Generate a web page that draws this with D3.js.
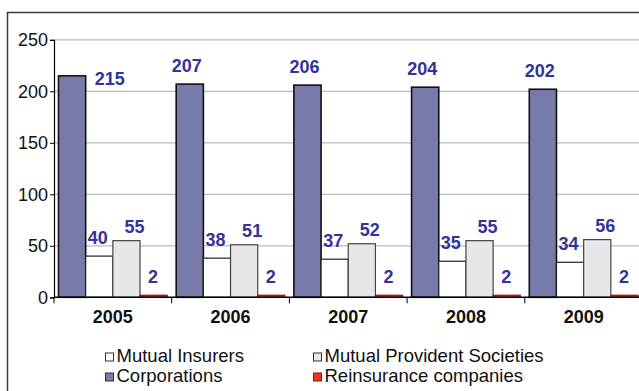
<!DOCTYPE html>
<html><head><meta charset="utf-8">
<script src="https://cdn.jsdelivr.net/npm/d3@7/dist/d3.min.js"></script>
<style>
html,body{margin:0;padding:0;background:#fff;overflow:hidden;}
svg{display:block;font-family:Arial,"Liberation Sans",sans-serif;}
</style></head>
<body>
<script>
const years = ["2005","2006","2007","2008","2009"];
const seriesNames = ["Corporations","Mutual Insurers","Mutual Provident Societies","Reinsurance companies"];
const corporations = [215,207,206,204,202];
const mutualInsurers = [40,38,37,35,34];
const mutualProvident = [55,51,52,55,56];
const reinsurance = [2,2,2,2,2];
const yTicks = [0,50,100,150,200,250];
const legendOrder = ["Mutual Insurers","Mutual Provident Societies","Corporations","Reinsurance companies"];

const values = {
  "Corporations": corporations,
  "Mutual Insurers": mutualInsurers,
  "Mutual Provident Societies": mutualProvident,
  "Reinsurance companies": reinsurance
};
const fills = {
  "Corporations": "#787baa",
  "Mutual Insurers": "#ffffff",
  "Mutual Provident Societies": "#e7e7e9",
  "Reinsurance companies": "#e8361f"
};
const strokes = {
  "Corporations": "#111",
  "Mutual Insurers": "#222",
  "Mutual Provident Societies": "#444",
  "Reinsurance companies": "#8a1a10"
};
// label placement per series: [dx, dy from bar top]
const labelOff = {
  "Corporations": [-3, -12],
  "Mutual Insurers": [-1.5, -12],
  "Mutual Provident Societies": [8, -8],
  "Reinsurance companies": [-0.5, -12]
};

const W = 639, H = 391;
const svg = d3.select("body").append("svg").attr("width", W).attr("height", H);

// outer frame
svg.append("rect").attr("x", 7.5).attr("y", 12.5).attr("width", 700).attr("height", 500)
  .attr("fill", "none").attr("stroke", "#3a3a3a").attr("stroke-width", 1.5);

const x0 = 54, catW = 117.7;
const x = d3.scaleBand().domain(years).range([x0, x0 + catW * years.length]);
const xs = d3.scaleBand().domain(seriesNames).range([0, x.bandwidth()]).paddingInner(0).paddingOuter(0.165);
const y = d3.scaleLinear().domain([0, 250]).range([297.3, 39.8]);

// gridlines
svg.append("g").selectAll("line").data(yTicks.filter(d => d > 0)).join("line")
  .attr("x1", x0).attr("x2", W).attr("y1", d => y(d)).attr("y2", d => y(d))
  .attr("stroke", "#b9bcc0").attr("stroke-width", 1.2);

// y axis
const yAxis = d3.axisLeft(y).tickValues(yTicks).tickSize(4).tickPadding(2).tickFormat(d3.format("d"));
const gy = svg.append("g").attr("transform", `translate(${x0},0)`).call(yAxis);
gy.select(".domain").attr("stroke", "#000").attr("stroke-width", 1.2);
gy.selectAll(".tick line").attr("stroke", "#000");
gy.selectAll(".tick text").attr("font-size", 18).attr("fill", "#111")
  .attr("font-family", "Arial,'Liberation Sans',sans-serif").attr("dy", "0.32em");

// bars
const groups = svg.append("g").selectAll("g").data(years).join("g")
  .attr("transform", d => `translate(${x(d)},0)`);
seriesNames.forEach(s => {
  groups.append("rect")
    .attr("x", xs(s))
    .attr("width", xs.bandwidth())
    .attr("y", (d, i) => y(values[s][i]))
    .attr("height", (d, i) => y(0) - y(values[s][i]))
    .attr("fill", fills[s])
    .attr("stroke", strokes[s])
    .attr("stroke-width", s === "Corporations" ? 1.6 : 1.2);
});

// labels
seriesNames.forEach(s => {
  groups.append("text")
    .attr("x", (d, i) => {
      if (s === "Corporations" && i === 0) return xs(s) + xs.bandwidth() + 9;
      return xs(s) + xs.bandwidth() / 2 + labelOff[s][0];
    })
    .attr("y", (d, i) => {
      if (s === "Corporations" && i === 0) return y(values[s][i]) + 9;
      return y(values[s][i]) + labelOff[s][1];
    })
    .attr("text-anchor", (d, i) => (s === "Corporations" && i === 0) ? "start" : "middle")
    .attr("font-size", 18).attr("font-weight", "bold").attr("fill", "#333399")
    .text((d, i) => values[s][i]);
});

// x axis
const xAxis = d3.axisBottom(x).tickSize(0).tickPadding(0);
const gx = svg.append("g").attr("transform", `translate(0,${y(0)})`).call(xAxis);
gx.select(".domain").remove();
svg.append("line").attr("x1", x0).attr("x2", W).attr("y1", y(0)).attr("y2", y(0))
  .attr("stroke", "#000").attr("stroke-width", 1.4);
svg.append("g").selectAll("line").data(years).join("line")
  .attr("x1", d => x(d)).attr("x2", d => x(d))
  .attr("y1", y(0)).attr("y2", y(0) + 6).attr("stroke", "#000").attr("stroke-width", 1);
gx.selectAll(".tick text").attr("font-size", 18).attr("font-weight", "bold").attr("fill", "#111")
  .attr("font-family", "Arial,'Liberation Sans',sans-serif")
  .attr("dy", 0).attr("y", 26);

// legend
const legPos = [[105, 361.5], [313, 361.5], [105, 381.5], [313, 381.5]];
const leg = svg.append("g").selectAll("g").data(legendOrder).join("g")
  .attr("transform", (d, i) => `translate(${legPos[i][0]},${legPos[i][1]})`);
leg.append("rect").attr("x", 0.5).attr("y", -8.5).attr("width", 8).attr("height", 8)
  .attr("fill", d => fills[d]).attr("stroke", d => d === "Reinsurance companies" ? "#8a1a10" : "#333").attr("stroke-width", 1);
leg.append("text").attr("x", 11.5).attr("y", 0).attr("font-size", 18.5).attr("fill", "#111").text(d => d);
</script>
</body></html>
